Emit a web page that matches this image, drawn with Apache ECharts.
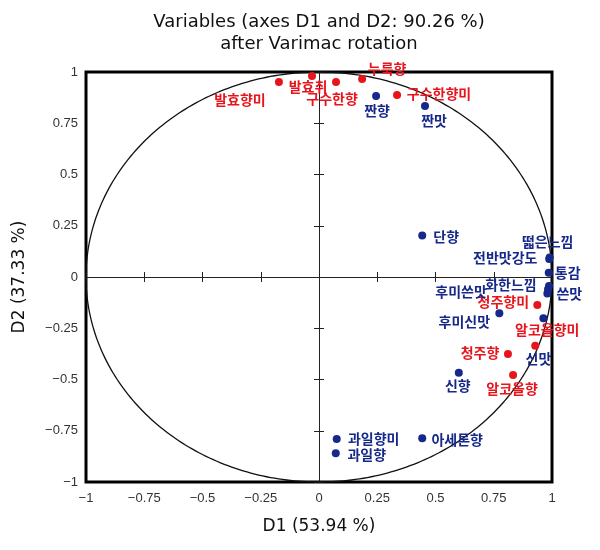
<!DOCTYPE html>
<html><head><meta charset="utf-8">
<script src="https://cdn.jsdelivr.net/npm/echarts@6/dist/echarts.min.js"></script>
<style>html,body{margin:0;padding:0;background:#fff}#c{width:600px;height:550px}</style>
</head><body><div id="c"></div>
<script>
// ---- data ----
const titleLines = ['Variables (axes D1 and D2: 90.26 %)', 'after Varimac rotation'];
const xName = 'D1 (53.94 %)';
const yName = 'D2 (37.33 %)';
const axisMin = -1, axisMax = 1, axisStep = 0.25;

const redNames = ['발효향미','발효취','구수한향','누룩향','구수한향미','청주향미','알코올향미','청주향','알코올향'];
const redD1 = [-0.172,-0.030,0.073,0.185,0.335,0.937,0.928,0.811,0.833];
const redD2 = [0.951,0.980,0.951,0.966,0.888,-0.137,-0.335,-0.376,-0.478];

const blueNames = ['짠향','짠맛','단향','떫은느낌','전반맛강도','통감','화한느낌','후미쓴맛','쓴맛','후미신맛','신맛','신향','과일향미','과일향','아세톤향'];
const blueD1 = [0.245,0.455,0.443,0.990,0.988,0.986,0.987,0.983,0.980,0.774,0.963,0.600,0.076,0.072,0.443];
const blueD2 = [0.883,0.834,0.203,0.095,0.088,0.021,-0.044,-0.060,-0.080,-0.177,-0.201,-0.467,-0.790,-0.860,-0.787];

// label placement (pixel offsets of label centre from the dot) – style only
const redLabelOffset = [[-39,18],[-4,11],[-4,17],[25,-10],[42,-1],[-34,-3],[12,-16],[-28,-1],[-1,14]];
const blueLabelOffset = [[1,15],[9,15],[24,1],[-2,-16],[-44,-1],[19,0],[-38,-1],[-87,2],[22,0],[-35,8],[-5,40],[-1,13],[37,0],[31,1],[35,1]];

const RED = '#e8141c', BLUE = '#16288a';
const CJK = '"Noto Sans CJK KR", "Noto Sans", sans-serif';
const LAT = '"DejaVu Sans", "Liberation Sans", sans-serif';

function build(names, xs, ys, offs, color) {
  return names.map((n, i) => ({
    value: [xs[i], ys[i]], name: n,
    label: { show: true, position: 'inside', offset: offs[i], formatter: n,
      color: color, fontSize: 14, fontWeight: 'bold', fontFamily: CJK, align: 'center', verticalAlign: 'middle' }
  }));
}
const fmt = v => (v < 0 ? '\u2212' : '') + Math.abs(v);

const grid = { left: 86, right: 48, top: 72, bottom: 68, show: true, borderColor: '#000', borderWidth: 3, backgroundColor: 'transparent' };

function baseAxis(extra) {
  return Object.assign({ type: 'value', min: axisMin, max: axisMax, interval: axisStep,
    splitLine: { show: false }, axisLabel: { show: false }, axisTick: { show: false },
    axisLine: { show: false } }, extra);
}

const chart = echarts.init(document.getElementById('c'), null, { renderer: 'canvas' });
chart.setOption({
  animation: false,
  graphic: [
    { type: 'text', x: 319, y: 22, z: 10, style: { text: titleLines[0], align: 'center', verticalAlign: 'middle', font: '18px ' + LAT, fill: '#111' } },
    { type: 'text', x: 319, y: 44, z: 10, style: { text: titleLines[1], align: 'center', verticalAlign: 'middle', font: '18px ' + LAT, fill: '#111' } }
  ],
  grid: grid,
  xAxis: [
    baseAxis({ position: 'bottom', axisLine: { show: false, onZero: false },
      axisLabel: { show: true, formatter: fmt, color: '#333', fontSize: 13, margin: 10, fontFamily: '"Liberation Sans", Arial, sans-serif' },
      name: xName, nameLocation: 'middle', nameGap: 36,
      nameTextStyle: { fontSize: 17, color: '#111', fontFamily: LAT } }),
    baseAxis({ axisLine: { show: true, onZero: true, lineStyle: { color: '#222', width: 1 } },
      axisTick: { show: true, inside: false, length: 5, lineStyle: { color: '#222' } } }),
    baseAxis({ axisLine: { show: false, onZero: true },
      axisTick: { show: true, inside: true, length: 5, lineStyle: { color: '#222' } } })
  ],
  yAxis: [
    baseAxis({ position: 'left', axisLine: { show: false, onZero: false },
      axisLabel: { show: true, formatter: fmt, color: '#333', fontSize: 13, margin: 8, fontFamily: '"Liberation Sans", Arial, sans-serif' },
      name: yName, nameLocation: 'middle', nameGap: 58,
      nameTextStyle: { fontSize: 17, color: '#111', fontFamily: LAT } }),
    baseAxis({ axisLine: { show: true, onZero: true, lineStyle: { color: '#222', width: 1 } },
      axisTick: { show: true, inside: false, length: 5, lineStyle: { color: '#222' } } }),
    baseAxis({ axisLine: { show: false, onZero: true },
      axisTick: { show: true, inside: true, length: 5, lineStyle: { color: '#222' } } })
  ],
  series: [
    {
      type: 'custom', xAxisIndex: 0, yAxisIndex: 0, silent: true, z: 1, clip: false,
      data: [[0, 0, 1]],
      renderItem: function (params, api) {
        const cx = api.value(0), cy = api.value(1), r = api.value(2);
        const pts = [];
        for (let k = 0; k <= 360; k++) {
          const t = k * Math.PI / 180;
          pts.push(api.coord([cx + r * Math.cos(t), cy + r * Math.sin(t)]));
        }
        return { type: 'polyline', shape: { points: pts }, style: { stroke: '#111', lineWidth: 1.3, fill: null } };
      }
    },
    { type: 'scatter', name: 'red', symbolSize: 8, z: 5, itemStyle: { color: RED, opacity: 1 },
      data: build(redNames, redD1, redD2, redLabelOffset, RED) },
    { type: 'scatter', name: 'blue', symbolSize: 8, z: 5, itemStyle: { color: BLUE, opacity: 1 },
      data: build(blueNames, blueD1, blueD2, blueLabelOffset, BLUE) }
  ]
});
</script></body></html>
